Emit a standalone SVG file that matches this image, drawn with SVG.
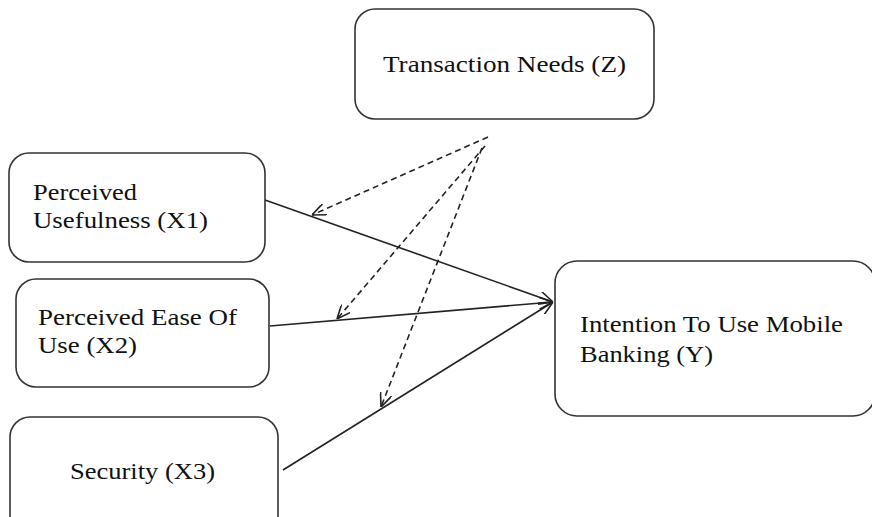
<svg xmlns="http://www.w3.org/2000/svg" width="872" height="517" viewBox="0 0 872 517">
<defs>
<style>
.box{fill:#fff;stroke:#333;stroke-width:1.6}
.lbl{font-family:"Liberation Serif","Times New Roman",serif;font-size:24px;fill:#111}
.solid{fill:none;stroke:#222;stroke-width:1.6}
.dash{fill:none;stroke:#222;stroke-width:1.6;stroke-dasharray:6,4}
</style>
<marker id="arr" viewBox="0 0 14 12" refX="14" refY="6" markerWidth="14" markerHeight="12" markerUnits="userSpaceOnUse" orient="auto">
<path d="M0,0 L14,6 L0,12" fill="none" stroke="#222" stroke-width="1.6"/>
</marker>
</defs>
<rect width="872" height="517" fill="#fff"/>
<g id="connectors">
<line class="solid" x1="265" y1="200" x2="553" y2="302" marker-end="url(#arr)"/>
<line class="solid" x1="270" y1="326" x2="553" y2="302" marker-end="url(#arr)"/>
<line class="solid" x1="283" y1="470" x2="553" y2="302" marker-end="url(#arr)"/>
<line class="dash" x1="488" y1="137" x2="312" y2="215" marker-end="url(#arr)"/>
<line class="dash" x1="485" y1="146" x2="337" y2="319" marker-end="url(#arr)"/>
<line class="dash" x1="482" y1="148" x2="381" y2="407" marker-end="url(#arr)"/>
</g>
<g id="node-z">
<rect class="box" x="355" y="9" width="299" height="110" rx="20"/>
<text class="lbl" x="383" y="72" textLength="243" lengthAdjust="spacingAndGlyphs">Transaction  Needs (Z)</text>
</g>
<g id="node-x1">
<rect class="box" x="9" y="153" width="256" height="109" rx="20"/>
<text class="lbl" x="33" y="200" textLength="104" lengthAdjust="spacingAndGlyphs">Perceived</text>
<text class="lbl" x="33" y="228" textLength="175" lengthAdjust="spacingAndGlyphs">Usefulness (X1)</text>
</g>
<g id="node-x2">
<rect class="box" x="16" y="279" width="253" height="108" rx="20"/>
<text class="lbl" x="38" y="325" textLength="199" lengthAdjust="spacingAndGlyphs">Perceived Ease Of</text>
<text class="lbl" x="38" y="353" textLength="99" lengthAdjust="spacingAndGlyphs">Use (X2)</text>
</g>
<g id="node-x3">
<rect class="box" x="10" y="417" width="268" height="120" rx="20"/>
<text class="lbl" x="70" y="479" textLength="145" lengthAdjust="spacingAndGlyphs">Security (X3)</text>
</g>
<g id="node-y">
<rect class="box" x="555" y="261" width="320" height="155" rx="22"/>
<text class="lbl" x="580" y="332" textLength="263" lengthAdjust="spacingAndGlyphs">Intention To Use Mobile</text>
<text class="lbl" x="580" y="362" textLength="133" lengthAdjust="spacingAndGlyphs">Banking (Y)</text>
</g>
</svg>
